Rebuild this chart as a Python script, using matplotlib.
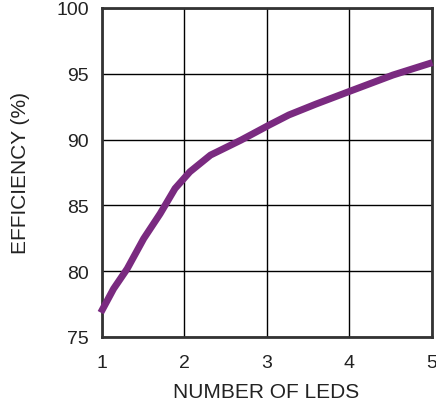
import matplotlib
matplotlib.use("Agg")
import matplotlib.pyplot as plt

plt.rcParams["font.family"] = ["Liberation Sans", "DejaVu Sans"]

# efficiency vs number of LEDs
num_leds = [0.99, 1.145, 1.31, 1.51, 1.71, 1.89, 2.07, 2.32, 2.69, 3.03, 3.27, 3.6, 4.0, 4.53, 5.01]
efficiency = [76.85, 78.66, 80.18, 82.47, 84.37, 86.28, 87.55, 88.82, 89.96, 91.1, 91.87, 92.7, 93.65, 94.9, 95.85]
x_ticks = [1, 2, 3, 4, 5]
y_ticks = [75, 80, 85, 90, 95, 100]

PURPLE = "#7a2a80"

fig = plt.figure(figsize=(4.36, 4.06), dpi=100)
ax = fig.add_axes([0.233, 0.1675, 0.757, 0.8105])

ax.plot(num_leds, efficiency, color=PURPLE, lw=5, solid_joinstyle="round",
        solid_capstyle="butt", zorder=3, clip_on=False)

ax.set_xlim(1, 5)
ax.set_ylim(75, 100)
ax.set_xticks(x_ticks)
ax.set_yticks(y_ticks)
ax.tick_params(length=0, labelsize=14, colors="#222222")
ax.tick_params(axis="x", pad=12)
ax.tick_params(axis="y", pad=9)
ax.grid(True, color="black", lw=1)
for s in ax.spines.values():
    s.set_linewidth(2)
    s.set_color("#333333")

ax.set_xlabel("NUMBER OF LEDS", fontsize=15, color="#222222", labelpad=8)
ax.set_ylabel("EFFICIENCY (%)", fontsize=15, color="#222222", labelpad=19)

fig.savefig("out.png", dpi=100)
